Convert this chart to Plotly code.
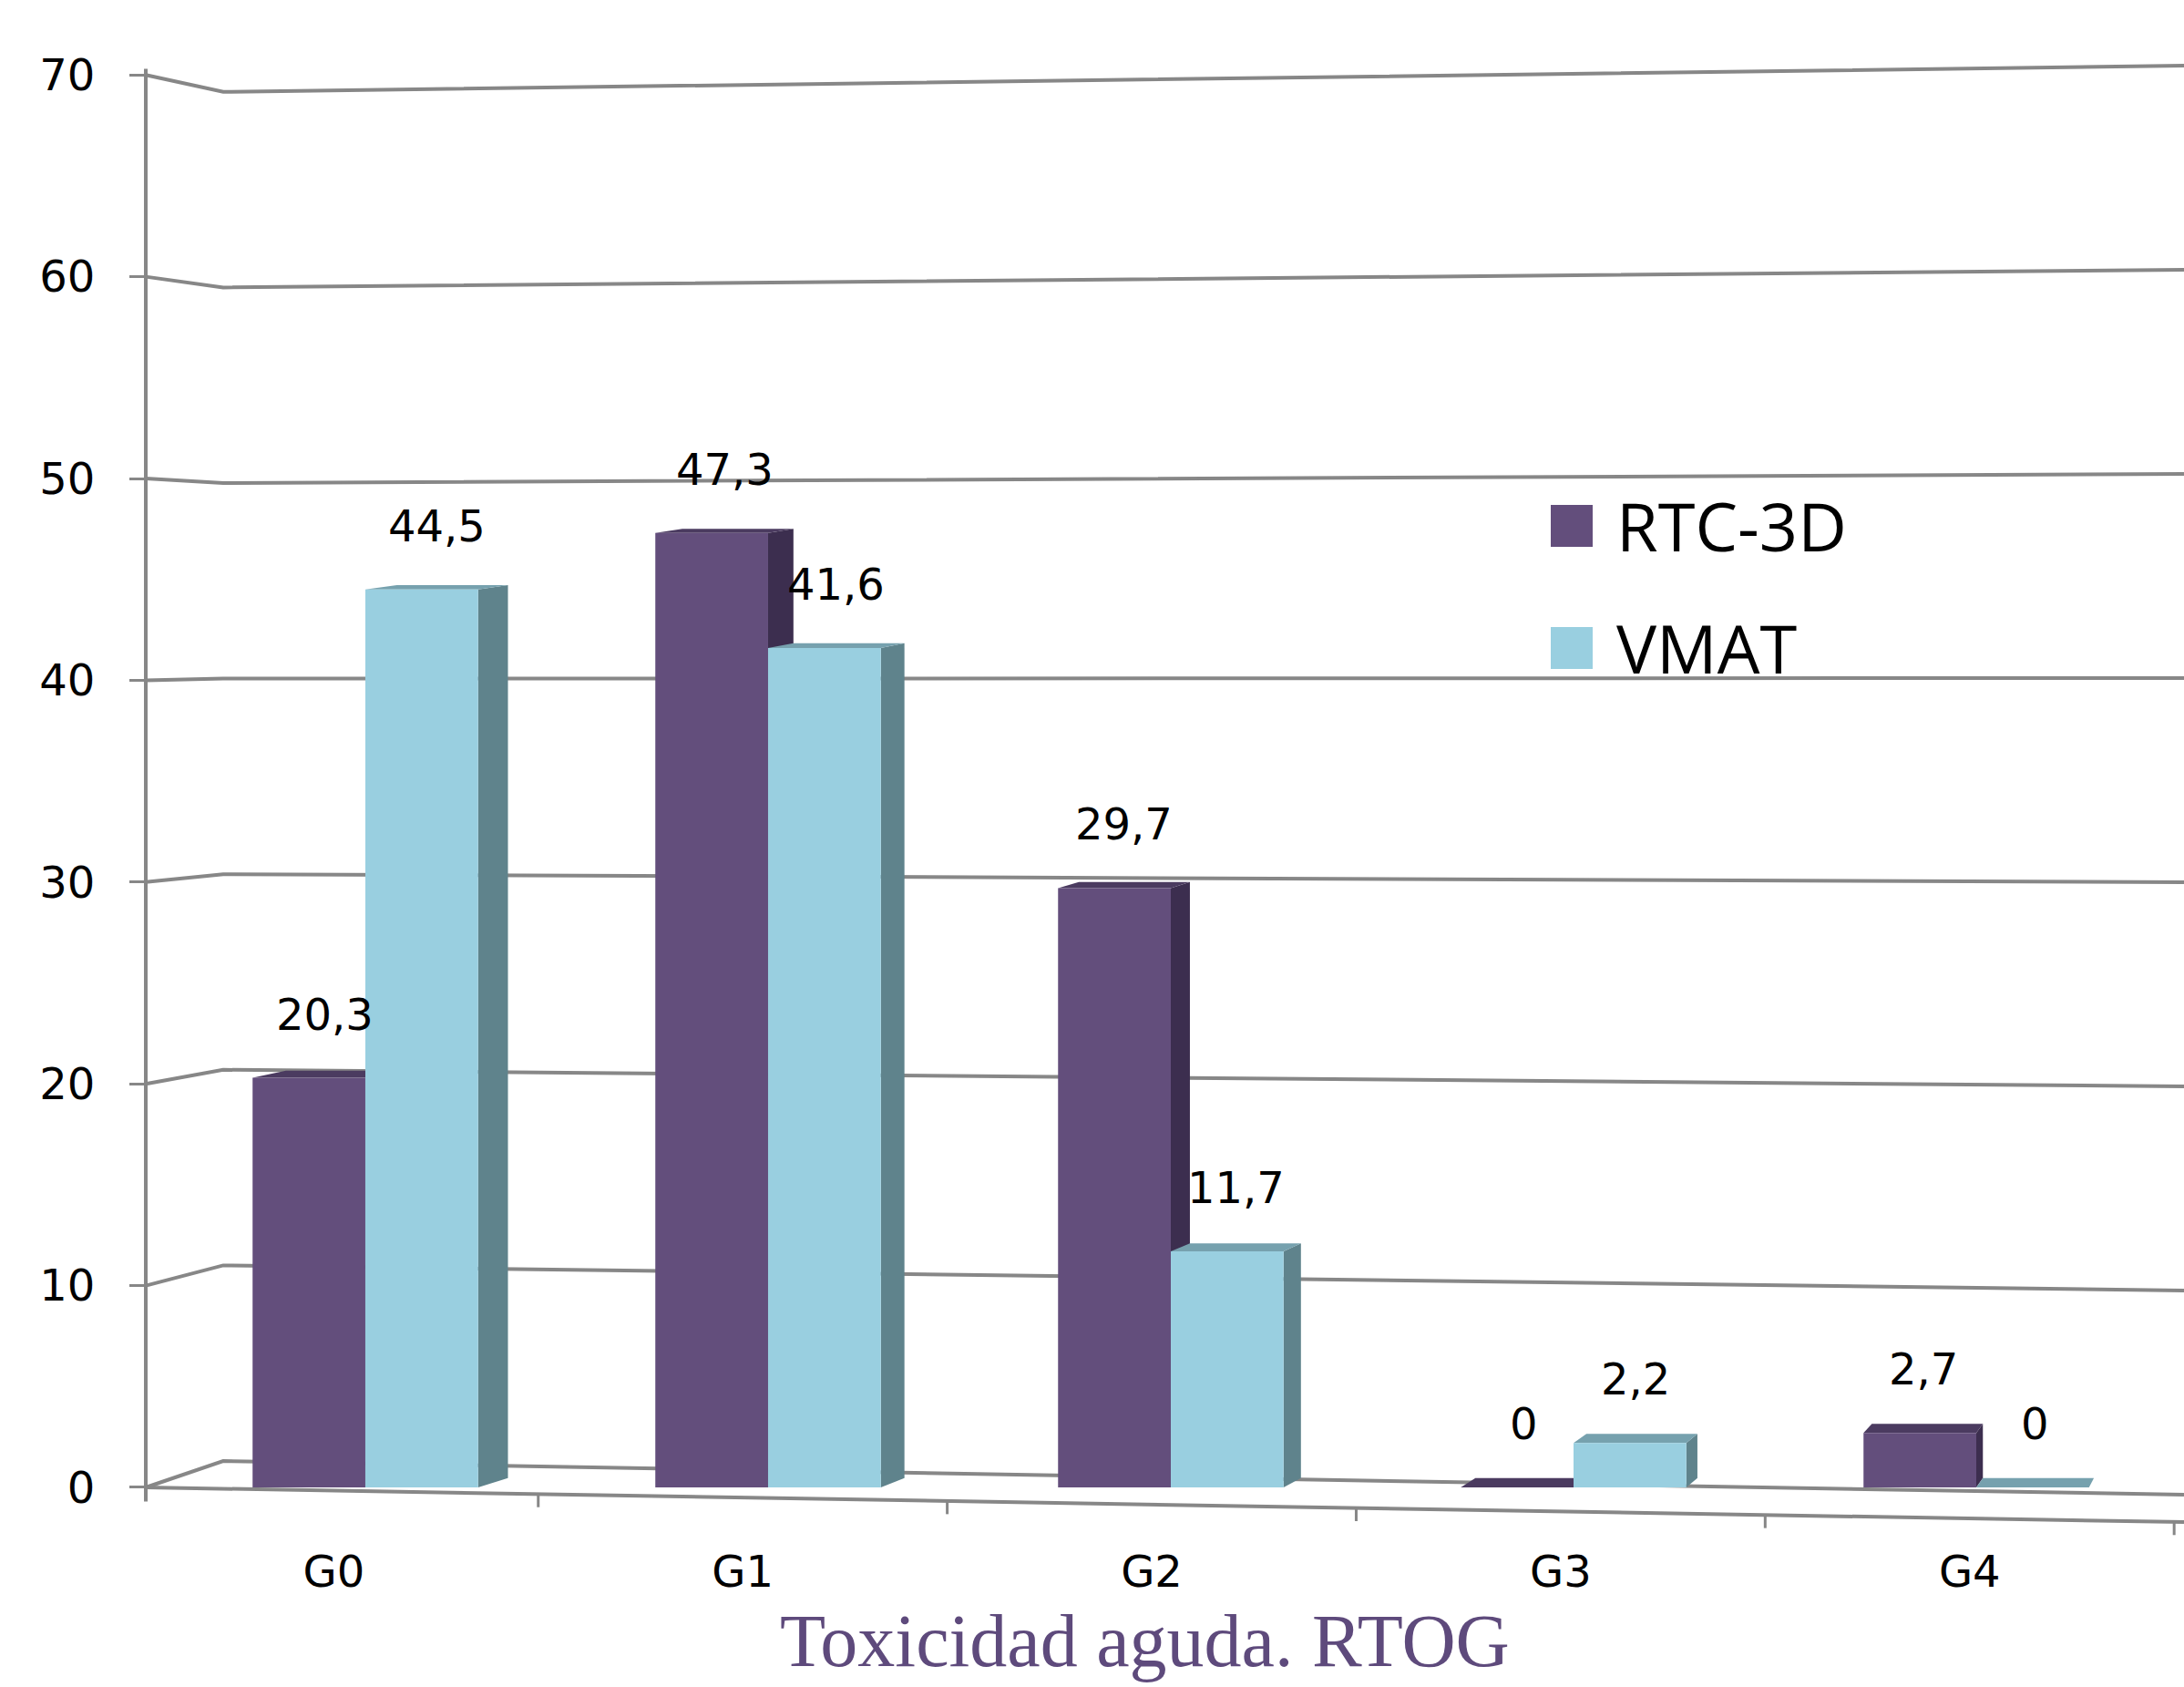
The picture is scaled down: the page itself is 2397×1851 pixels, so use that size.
import plotly.graph_objects as go

# ---- data ----
categories = ["G0", "G1", "G2", "G3", "G4"]
rtc_3d = [20.3, 47.3, 29.7, 0.0, 2.7]
vmat = [44.5, 41.6, 11.7, 2.2, 0.0]
series_names = ["RTC-3D", "VMAT"]
y_ticks = [0, 10, 20, 30, 40, 50, 60, 70]
chart_title = "Toxicidad aguda. RTOG"

# ---- frame (pixels) and axis windows ----
FIG_W, FIG_H = 2397, 1851
M_L, M_R, M_T, M_B = 160, 0, 20, 161
X0, X1 = -0.5452, 4.5158
Y0, Y1 = -2.62, 72.81

# ---- styles ----
FRONT = {"RTC-3D": "#634e7c", "VMAT": "#99cfe0"}
SIDE = {"RTC-3D": "#3c2e4f", "VMAT": "#5f838c"}
TOP = {"RTC-3D": "#4b3b60", "VMAT": "#76a1ae"}
GRID = "#878787"
LABEL_FONT = "DejaVu Sans"
BAR_W = 0.28

# pseudo-3D projection: the depth offset shrinks toward the eye on the right,
# and top faces thin out as bars rise toward eye level
DEPTH = 0.0155
EYE_X = 5.06
TOP_K = 0.0055
EYE_V = 84.0

# back wall: left corner position and value mapping at both ends of the wall
WALL_X = -0.353
WALL_LEFT = (1.31, 0.9693)
WALL_RIGHT = (-0.36, 1.0117)
FLOOR_DROP = -1.72


def depth_dx(x):
    return DEPTH * (EYE_X - x)


def top_t(v):
    return TOP_K * (EYE_V - v)


def xp(x):
    return (x - X0) / (X1 - X0)


def yp(v):
    return (v - Y0) / (Y1 - Y0)


def px_x(px):
    return (px - M_L) / (FIG_W - M_L - M_R)


def px_y(py):
    return (FIG_H - M_B - py) / (FIG_H - M_T - M_B)


def floor_v(x):
    return FLOOR_DROP * (x - X0) / (X1 - X0)


def fmt(v):
    return "0" if v == 0 else f"{v:.1f}".replace(".", ",")


fig = go.Figure()
shapes = []
annotations = []

# ---- walls: perspective gridlines, axis line and floor edge ----
line_style = dict(color=GRID, width=4)
for v in y_ticks:
    a = WALL_LEFT[0] + WALL_LEFT[1] * v
    b = WALL_RIGHT[0] + WALL_RIGHT[1] * v
    shapes.append(dict(
        type="path", xref="paper", yref="paper", layer="below",
        path=f"M{xp(X0)},{yp(v)} L{xp(WALL_X)},{yp(a)} L{xp(X1)},{yp(b)}",
        line=line_style))

shapes.append(dict(type="line", xref="paper", yref="paper", layer="below",
                   x0=xp(X0), x1=xp(X0), y0=yp(-0.7), y1=yp(70.3), line=line_style))
shapes.append(dict(type="line", xref="paper", yref="paper", layer="below",
                   x0=xp(X0), x1=xp(X1), y0=yp(0), y1=yp(FLOOR_DROP), line=line_style))
for k in range(len(categories)):
    bnd = k + 0.5
    tx = bnd - depth_dx(bnd)
    fv = floor_v(tx)
    shapes.append(dict(type="line", xref="paper", yref="paper", layer="below",
                       x0=xp(tx), x1=xp(tx), y0=yp(fv), y1=yp(fv - 0.65),
                       line=dict(color=GRID, width=3)))

# ---- bars: front faces as traces, side/top faces as shapes ----
series = [(series_names[0], rtc_3d, -BAR_W), (series_names[1], vmat, 0.0)]
for name, values, off in series:
    fig.add_trace(go.Bar(
        x=list(range(len(categories))), y=values, width=BAR_W, offset=off,
        name=name, marker=dict(color=FRONT[name], line=dict(width=0)),
        showlegend=False, hoverinfo="skip"))
    for i, v in enumerate(values):
        xl = i + off
        xr = xl + BAR_W
        t = top_t(v)
        dl, dr = depth_dx(xl), depth_dx(xr)
        if v > 0:
            shapes.append(dict(
                type="path", xref="x", yref="y", layer="below",
                path=f"M{xr},0 L{xr},{v} L{xr + dr},{v + t} L{xr + dr},{top_t(0)} Z",
                fillcolor=SIDE[name], line=dict(width=0)))
        shapes.append(dict(
            type="path", xref="x", yref="y", layer="below",
            path=f"M{xl},{v} L{xr},{v} L{xr + dr},{v + t} L{xl + dl},{v + t} Z",
            fillcolor=TOP[name], line=dict(width=0)))
        annotations.append(dict(
            x=xl + BAR_W / 2 + dr / 2, y=v, xref="x", yref="y",
            text=fmt(v), showarrow=False, yanchor="middle", yshift=70,
            font=dict(family=LABEL_FONT, size=48, color="#000000")))

# ---- legend ----
legend_rows = [(series_names[0], 554), (series_names[1], 688)]
for name, top_px in legend_rows:
    shapes.append(dict(type="rect", xref="paper", yref="paper",
                       x0=px_x(1702), x1=px_x(1748),
                       y0=px_y(top_px + 46), y1=px_y(top_px),
                       fillcolor=FRONT[name], line=dict(width=0)))
    annotations.append(dict(
        x=px_x(1772), y=px_y(top_px + 22), xref="paper", yref="paper",
        text=name, showarrow=False, xanchor="left", yanchor="middle",
        font=dict(family="Open Sans", size=74, color="#000000")))

# ---- title under the chart ----
annotations.append(dict(
    x=px_x(1256), y=px_y(1753), xref="paper", yref="paper",
    text=chart_title, showarrow=False, xanchor="center", yanchor="top",
    font=dict(family="Liberation Serif", size=82, color="#5e4a7c")))

fig.update_layout(
    width=FIG_W, height=FIG_H,
    margin=dict(l=M_L, r=M_R, t=M_T, b=M_B, pad=0),
    paper_bgcolor="white", plot_bgcolor="white",
    barmode="overlay", showlegend=False,
    shapes=shapes, annotations=annotations,
    xaxis=dict(
        range=[X0, X1], showgrid=False, zeroline=False, showline=False,
        ticks="", tickmode="array",
        tickvals=[i - depth_dx(i) for i in range(len(categories))],
        ticktext=categories, ticklabelstandoff=2,
        tickfont=dict(family=LABEL_FONT, size=48, color="#000000")),
    yaxis=dict(
        range=[Y0, Y1], showgrid=False, zeroline=False, showline=False,
        tickmode="array", tickvals=y_ticks, ticktext=[str(t) for t in y_ticks],
        ticks="outside", ticklen=17, tickwidth=3, tickcolor=GRID,
        ticklabelstandoff=28,
        tickfont=dict(family=LABEL_FONT, size=48, color="#000000")),
)

fig.write_html("out.html")
